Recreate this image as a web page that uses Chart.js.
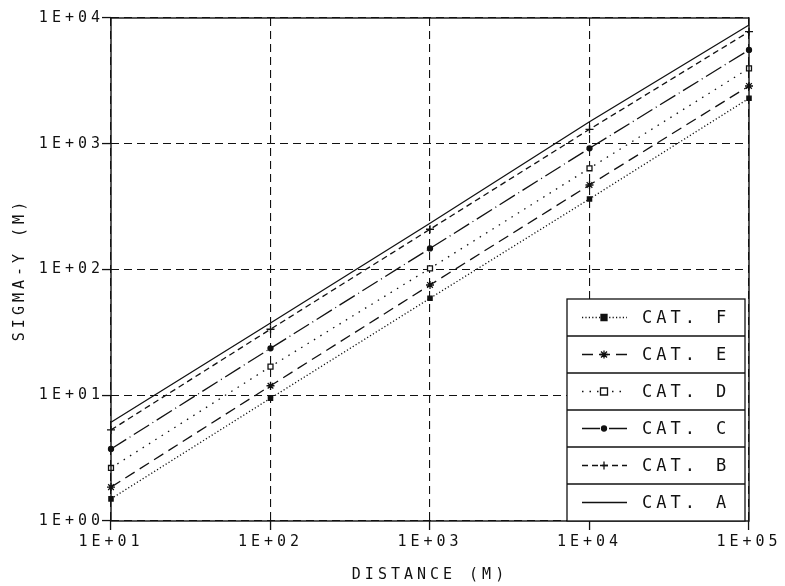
<!DOCTYPE html>
<html>
<head>
<meta charset="utf-8">
<script src="https://cdn.jsdelivr.net/npm/chart.js@4.4.1/dist/chart.umd.min.js"></script>
<style>
  html, body { margin: 0; padding: 0; background: #fff; }
  #wrap { width: 785px; height: 586px; }
</style>
</head>
<body>
<div id="wrap"><canvas id="mainChart" width="785" height="586"></canvas></div>
<script>
// sigma-y vs downwind distance at each decade
const distances = [10, 100, 1000, 10000, 100000];
const catA = [6.1, 37.5, 233, 1497, 8800];
const catB = [5.3, 33.5, 209, 1303, 7780];
const catC = [3.74, 23.6, 147, 920, 5570];
const catD = [2.64, 16.9, 102, 638, 3980];
const catE = [1.86, 11.9, 75.3, 470, 2880];
const catF = [1.50, 9.46, 59.0, 364, 2297];
const categories = ['A', 'B', 'C', 'D', 'E', 'F'];
const xTicks = [10, 100, 1000, 10000, 100000];
const xTickLabels = ['1E+01', '1E+02', '1E+03', '1E+04', '1E+05'];
const yTicks = [1, 10, 100, 1000, 10000];
const yTickLabels = ['1E+00', '1E+01', '1E+02', '1E+03', '1E+04'];

const INK = '#111';
const FONT = '"DejaVu Sans Mono", "Liberation Mono", monospace';

// line style per category (plotter pens)
const styles = {
    A: { dash: [],            point: false,   radius: 0 },
    B: { dash: [6, 4],        point: 'cross', radius: 4 },
    C: { dash: [18, 4, 1, 4], point: 'circle', radius: 2.5, fill: true },
    D: { dash: [1.5, 6],      point: 'rect',  radius: 3.5, fill: false },
    E: { dash: [11, 6],       point: 'star',  radius: 4 },
    F: { dash: [1.2, 2.2],    point: 'rect',  radius: 3, fill: true }
};
const seriesValues = { A: catA, B: catB, C: catC, D: catD, E: catE, F: catF };

function drawMarker(ctx, style, r, x, y, filled) {
    ctx.save();
    ctx.setLineDash([]);
    ctx.lineWidth = 1.3;
    ctx.strokeStyle = INK;
    ctx.fillStyle = filled ? INK : '#fff';
    ctx.beginPath();
    if (style === 'cross' || style === 'star') {
        ctx.moveTo(x - r, y); ctx.lineTo(x + r, y);
        ctx.moveTo(x, y - r); ctx.lineTo(x, y + r);
        if (style === 'star') {
            const d = r * 0.75;
            ctx.moveTo(x - d, y - d); ctx.lineTo(x + d, y + d);
            ctx.moveTo(x - d, y + d); ctx.lineTo(x + d, y - d);
        }
        ctx.stroke();
    } else if (style === 'circle') {
        ctx.arc(x, y, r, 0, Math.PI * 2); ctx.fill(); ctx.stroke();
    } else if (style === 'rect') {
        ctx.rect(x - r, y - r, 2 * r, 2 * r); ctx.fill(); ctx.stroke();
    }
    ctx.restore();
}

const plotterText = {
    id: 'plotterText',
    beforeUpdate: (chart) => { chart.ctx.letterSpacing = '4px'; },
    beforeDraw: (chart) => {
        const ctx = chart.ctx;
        ctx.save(); ctx.fillStyle = '#fff'; ctx.fillRect(0, 0, chart.width, chart.height); ctx.restore();
        ctx.letterSpacing = '4px';
    }
};

const frameAndLegend = {
    id: 'frameAndLegend',
    afterDraw: (chart) => {
        const ctx = chart.ctx, ca = chart.chartArea;
        ctx.save();
        ctx.setLineDash([]);
        ctx.strokeStyle = INK; ctx.lineWidth = 1.4;
        ctx.strokeRect(ca.left, ca.top, ca.right - ca.left, ca.bottom - ca.top);

        // boxed legend, CAT. F at the top down to CAT. A
        const rowH = 37, w = 178;
        const right = ca.right - 4, left = right - w, top = ca.bottom - rowH * categories.length;
        ctx.fillStyle = '#fff';
        ctx.fillRect(left, top, w, rowH * categories.length);
        ctx.lineWidth = 1.3;
        ctx.strokeRect(left, top, w, rowH * categories.length);
        const order = categories.slice().reverse();
        order.forEach((cat, i) => {
            const s = styles[cat];
            const y0 = top + i * rowH, yc = y0 + rowH / 2;
            if (i > 0) { ctx.beginPath(); ctx.moveTo(left, y0); ctx.lineTo(right, y0); ctx.stroke(); }
            ctx.save();
            ctx.setLineDash(s.dash); ctx.lineWidth = 1.3;
            ctx.beginPath(); ctx.moveTo(left + 15, yc); ctx.lineTo(left + 60, yc); ctx.stroke();
            ctx.restore();
            if (s.point) drawMarker(ctx, s.point, s.radius, left + 37, yc, s.fill);
            ctx.fillStyle = INK;
            ctx.font = '17px ' + FONT;
            ctx.letterSpacing = '4px';
            ctx.textBaseline = 'middle';
            ctx.textAlign = 'left';
            ctx.fillText('CAT.', left + 75, yc + 1);
            ctx.fillText(cat, left + 149, yc + 1);
        });
        ctx.restore();
    }
};

const datasets = categories.map(cat => {
    const s = styles[cat];
    return {
        label: 'CAT. ' + cat,
        data: distances.map((x, i) => ({ x: x, y: seriesValues[cat][i] })),
        borderColor: INK,
        borderWidth: 1.3,
        borderDash: s.dash,
        tension: 0,
        fill: false,
        clip: false,
        pointStyle: s.point,
        pointRadius: s.radius,
        pointHoverRadius: s.radius,
        pointBorderColor: INK,
        pointBorderWidth: 1.3,
        pointBackgroundColor: s.fill ? INK : '#fff'
    };
});

const axisCommon = {
    type: 'logarithmic',
    grid: { color: INK, lineWidth: 1.1, drawTicks: true, tickLength: 9, tickColor: INK, tickWidth: 1.3 },
    border: { display: false, dash: [8, 5] }
};

window.mainChart = new Chart(document.getElementById('mainChart'), {
    type: 'line',
    data: { datasets: datasets },
    options: {
        responsive: false,
        animation: false,
        events: [],
        layout: { padding: { top: 18, right: 36, left: 0, bottom: 0 } },
        scales: {
            x: Object.assign({}, axisCommon, {
                min: 10, max: 100000,
                afterBuildTicks: (scale) => { scale.ticks = xTicks.map(v => ({ value: v })); },
                afterFit: (scale) => { scale.height = 65; },
                ticks: {
                    color: INK, font: { family: FONT, size: 15 }, padding: 3,
                    maxRotation: 0, autoSkip: false,
                    callback: (v) => xTickLabels[xTicks.indexOf(v)]
                },
                title: { display: true, text: 'DISTANCE (M)', color: INK, font: { family: FONT, size: 15 }, padding: { top: 0, bottom: 2 } }
            }),
            y: Object.assign({}, axisCommon, {
                min: 1, max: 10000,
                afterBuildTicks: (scale) => { scale.ticks = yTicks.map(v => ({ value: v })); },
                afterFit: (scale) => { scale.width = 111; },
                ticks: {
                    color: INK, font: { family: FONT, size: 15 }, padding: -2,
                    autoSkip: false,
                    callback: (v) => yTickLabels[yTicks.indexOf(v)]
                },
                title: { display: true, text: 'SIGMA-Y (M)', color: INK, font: { family: FONT, size: 15 }, padding: { top: 11, bottom: 0 } }
            })
        },
        plugins: {
            legend: { display: false },
            tooltip: { enabled: false }
        }
    },
    plugins: [plotterText, frameAndLegend]
});
</script>
</body>
</html>
